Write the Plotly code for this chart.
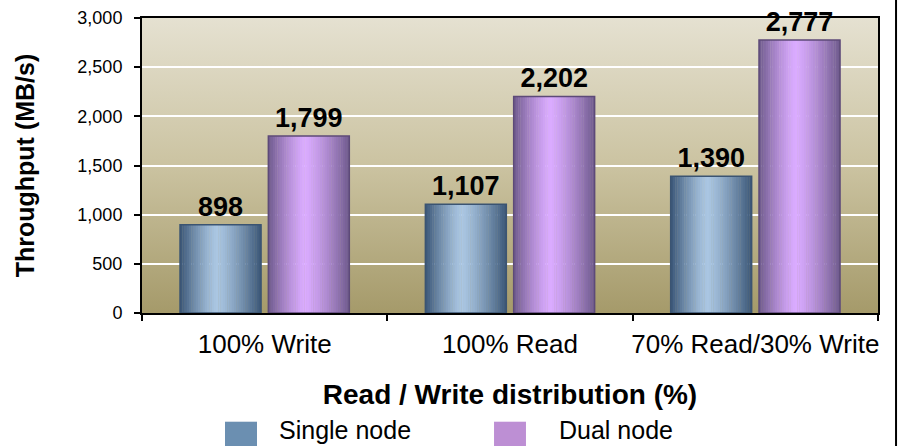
import base64
import plotly.graph_objects as go

categories = ["100% Write", "100% Read", "70% Read/30% Write"]
single_node = [898, 1107, 1390]
dual_node = [1799, 2202, 2777]
series_names = ["Single node", "Dual node"]
y_ticks = [0, 500, 1000, 1500, 2000, 2500, 3000]

FONT = "Liberation Sans, Arial, sans-serif"

# gradient styles (edge colour, centre colour, outline colour, legend colour)
styles = {
    "Single node": dict(edge=(58, 86, 119), light=(170, 198, 226), line="#3b5472", legend="#6b8fb1", offset=-0.345),
    "Dual node": dict(edge=(110, 90, 140), light=(218, 171, 255), line="#5d4a78", legend="#bd8fd4", offset=0.015),
}
BAR_W = 0.33
N_STRIPS = 36
PEAK = 0.45


def mix(a, b, t):
    return "rgb(%d,%d,%d)" % tuple(round(a[i] + (b[i] - a[i]) * t) for i in range(3))


fig = go.Figure()
for name, values in zip(series_names, [single_node, dual_node]):
    st = styles[name]
    sw = BAR_W / N_STRIPS
    for i in range(N_STRIPS):
        u = (i + 0.5) / N_STRIPS
        if u < PEAK:
            d = (PEAK - u) / PEAK
        else:
            d = (u - PEAK) / (1 - PEAK)
        t = d ** 1.3
        fig.add_trace(go.Bar(
            x=categories, y=values,
            width=sw * 1.15, offset=st["offset"] + i * sw,
            marker=dict(color=mix(st["light"], st["edge"], t), line=dict(width=0)),
            showlegend=False, hoverinfo="skip",
        ))
    fig.add_trace(go.Bar(
        x=categories, y=values, name=name,
        width=BAR_W, offset=st["offset"],
        marker=dict(color="rgba(0,0,0,0)", line=dict(color=st["line"], width=1.5)),
        texttemplate="%{y:,}", textposition="outside",
        textfont=dict(family=FONT, size=27, color="black", weight="bold"),
        cliponaxis=False, showlegend=False,
    ))

svg = ('<svg xmlns="http://www.w3.org/2000/svg" width="100" height="100" preserveAspectRatio="none">'
       '<defs><linearGradient id="g" x1="0" y1="0" x2="0" y2="1">'
       '<stop offset="0" stop-color="#e5e1d1"/><stop offset="0.5" stop-color="#cbc3a1"/>'
       '<stop offset="1" stop-color="#a59a6a"/></linearGradient></defs>'
       '<rect width="100" height="100" fill="url(#g)"/></svg>')
bg_uri = "data:image/svg+xml;base64," + base64.b64encode(svg.encode()).decode()

shapes = [
    dict(type="line", xref="paper", yref="paper", x0=1.0245, x1=1.0245, y0=-0.5, y1=1.1,
         line=dict(color="black", width=2)),
]
annotations = []
leg_x = [(0.1128, 0.15625, 0.183), (0.4783, 0.5217, 0.5635)]
for name, (x0, x1, tx) in zip(series_names, leg_x):
    shapes.append(dict(type="rect", xref="paper", yref="paper", x0=x0, x1=x1, y0=-0.4532, y1=-0.3685,
                       fillcolor=styles[name]["legend"], line=dict(width=0)))
    annotations.append(dict(text=name, xref="paper", yref="paper", x=tx, y=-0.397,
                            xanchor="left", yanchor="middle", showarrow=False,
                            font=dict(family=FONT, size=25, color="black")))

fig.update_layout(
    width=899, height=446,
    margin=dict(l=142, r=21, t=18, b=133),
    barmode="overlay",
    paper_bgcolor="white", plot_bgcolor="rgba(0,0,0,0)",
    font=dict(family=FONT, color="black"),
    images=[dict(source=bg_uri, xref="paper", yref="paper", x=0, y=1, sizex=1, sizey=1,
                 sizing="stretch", layer="below", xanchor="left", yanchor="top")],
    shapes=shapes, annotations=annotations,
    showlegend=False,
)
fig.update_yaxes(
    range=[0, 3000], tickvals=y_ticks, tickformat=",", automargin=False,
    showgrid=True, gridcolor="white", gridwidth=1.5,
    showline=True, linecolor="black", linewidth=2, mirror=True,
    ticks="outside", ticklen=6, tickcolor="black", tickwidth=1.5,
    tickfont=dict(size=18, family=FONT, color="black"), ticklabelstandoff=8,
    zeroline=False,
    title=dict(text="<b>Throughput (MB/s)</b>", font=dict(size=25, family=FONT), standoff=36),
)
fig.update_xaxes(
    automargin=False, tickangle=0,
    showline=True, linecolor="black", linewidth=2, mirror=True,
    ticks="outside", tickson="boundaries", ticklen=6, tickcolor="black", tickwidth=1.5,
    tickfont=dict(size=26, family=FONT, color="black"), ticklabelstandoff=7,
    title=dict(text="<b>Read / Write distribution (%)</b>", font=dict(size=28, family=FONT), standoff=26),
)

fig.write_html("out.html", config={"displayModeBar": False},
               post_script="document.body.style.margin='0';document.body.style.overflow='hidden';")
